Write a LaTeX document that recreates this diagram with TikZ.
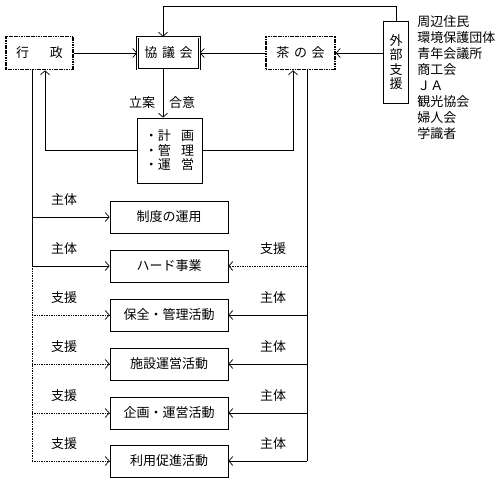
\documentclass[tikz,border=0pt]{standalone}
\usepackage{fontspec}
\setmainfont{Noto Sans CJK JP}
\usetikzlibrary{arrows.meta}

\begin{document}
\begin{tikzpicture}[x=1pt, y=-1pt, line width=0.7pt,
    font=\fontsize{13}{16}\selectfont,
    hako/.style={draw, minimum width=118, minimum height=32, inner sep=0pt},
    futo/.style={draw, line width=1.6pt, dash pattern=on 1.2pt off 0.5pt, minimum height=33, inner sep=0pt},
    ya/.style={-{Straight Barb[length=4pt,width=9pt]}},
    ten/.style={densely dotted}]
  \useasboundingbox (0,0) rectangle (500,482);

  \coordinate (ue) at (163,6);
  \coordinate (lx) at (32,0);
  \coordinate (hx) at (45,0);
  \coordinate (mx) at (293,0);
  \coordinate (rx) at (307,0);

  % 上段
  \node[futo, minimum width=67] (gyosei) at (39.5,53) {行\hspace{1.6em}政};
  \node[draw, double, double distance=1pt, line width=0.6pt, minimum width=62,
        minimum height=32, inner sep=0pt] (kyogi) at (168.5,53) {協\hspace{0.35em}議\hspace{0.35em}会};
  \node[futo, minimum width=69] (cha) at (300.5,53) {茶\hspace{0.35em}の\hspace{0.35em}会};
  \node[draw, minimum width=25, minimum height=82, inner sep=0pt, align=center,
        font=\fontsize{13}{14.5}\selectfont] (gaibu) at (396,62) {外\\部\\支\\援};
  \node[anchor=north west, inner sep=0pt, align=left,
        font=\fontsize{13}{16}\selectfont] (dantai) at (417,15)
        {周辺住民\\環境保護団体\\青年会議所\\商工会\\ＪＡ\\観光協会\\婦人会\\学識者};

  \node[draw, minimum width=65, minimum height=65, inner sep=0pt, align=left,
        font=\fontsize{13}{14.5}\selectfont] (keikaku) at (169.5,150.5)
        {・計\hspace{0.8em}画\\・管\hspace{0.8em}理\\・運\hspace{0.8em}営};
  \node (ritsuan) at (142,103) {立案};
  \node (goi) at (182,103) {合意};

  \draw[ya] (gyosei) -- (kyogi);
  \draw[ya] (cha) -- (kyogi);
  \draw[ya] (gaibu.west |- cha.east) -- (cha.east);
  \draw[ya] (gaibu.north) |- (ue) -- (ue |- kyogi.north);
  \draw[ya] (ue |- kyogi.south) -- (ue |- keikaku.north);
  \draw[ya] (keikaku.west) -| (hx |- gyosei.south);
  \draw[ya] (keikaku.east) -| (mx |- cha.south);

  % 下段
  \foreach \n/\y/\t in {seido/217/制度の運用, hard/266/ハード事業,
      hozen/315/保全・管理活動, shisetsu/364/施設運営活動,
      kikaku/413/企画・運営活動, riyo/461/利用促進活動}
    \node[hako] (\n) at (169,\y) {\t};

  \draw (lx |- gyosei.south) -- (lx |- hard.west);
  \draw[ten] (lx |- hard.west) -- (lx |- riyo.west);
  \draw (rx |- cha.south) -- (rx |- riyo.east);

  \foreach \n in {seido, hard} {
    \draw[ya] (lx |- \n.west) -- (\n.west);
    \node (sl-\n) at ([shift={(32,-17)}] lx |- \n.west) {主体};
  }
  \foreach \n in {hozen, shisetsu, kikaku, riyo} {
    \draw[ya, ten] (lx |- \n.west) -- (\n.west);
    \node (sl-\n) at ([shift={(32,-17)}] lx |- \n.west) {支援};
    \draw[ya] (rx |- \n.east) -- (\n.east);
    \node (sr-\n) at ([shift={(-34,-17)}] rx |- \n.east) {主体};
  }
  \draw[ya, ten] (rx |- hard.east) -- (hard.east);
  \node (sr-hard) at ([shift={(-34,-17)}] rx |- hard.east) {支援};
\end{tikzpicture}
\end{document}
